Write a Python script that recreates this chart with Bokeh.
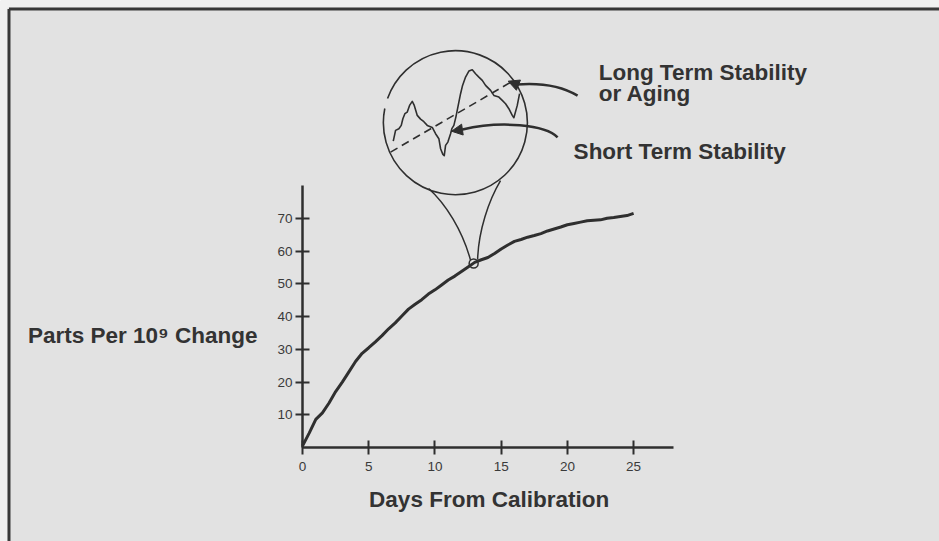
import math
from bokeh.plotting import figure
from bokeh.models import Range1d, FixedTicker, Arrow, NormalHead
from bokeh.core.properties import value
from bokeh.embed import file_html
from bokeh.resources import INLINE

# ---------------- data ----------------
days = [0.0, 0.5, 1.0, 1.5, 2.0, 2.5, 3.0, 3.5, 4.0, 4.5,
        5.0, 5.5, 6.0, 6.5, 7.0, 7.5, 8.0, 8.5, 9.0, 9.5,
        10.0, 10.5, 11.0, 11.5, 12.0, 12.5, 13.0, 13.5, 14.0, 14.5,
        15.0, 15.5, 16.0, 16.5, 17.0, 17.5, 18.0, 18.5, 19.0, 19.5,
        20.0, 20.5, 21.0, 21.5, 22.0, 22.5, 23.0, 23.5, 24.0, 24.5, 25.0]
ppb = [0.5, 4.4, 8.6, 10.6, 13.6, 17.1, 20.0, 23.1, 26.3, 28.8,
       30.5, 32.3, 34.2, 36.3, 38.1, 40.2, 42.3, 43.8, 45.2, 46.9,
       48.2, 49.7, 51.2, 52.4, 53.8, 55.2, 56.6, 57.4, 58.1, 59.3,
       60.7, 61.9, 63.0, 63.6, 64.3, 64.8, 65.4, 66.2, 66.8, 67.4,
       68.1, 68.5, 68.9, 69.3, 69.5, 69.6, 70.1, 70.3, 70.6, 70.9, 71.6]
x_ticks = [0, 5, 10, 15, 20, 25]
y_ticks = [10, 20, 30, 40, 50, 60, 70]
magnified_day = 12.92          # point of the curve that is magnified

# magnified view (short-term wiggle), offsets in pixels from the lens centre
inset_du = [-62.1, -59.8, -56.5, -54.1, -52.5, -50.5, -48.1, -45.8, -43.1, -41.1,
            -38.1, -34.8, -31.5, -28.1, -23.1, -19.8, -16.5, -14.8, -12.5, -11.1,
            -9.8, -7.5, -4.8, -3.5, -1.5, 0.5, 2.5, 5.2, 7.2, 10.2,
            13.5, 16.9, 20.2, 23.5, 26.9, 30.2, 35.2, 38.5, 43.5, 46.9,
            50.2, 53.5, 56.9, 58.5, 61.9, 64.2]
inset_dv = [-18.4, -7.7, -6.0, -2.7, 4.0, 9.0, 10.6, 17.3, 21.3, 17.3,
            7.3, 3.6, 1.0, -2.7, -4.7, -11.0, -16.0, -26.0, -31.7, -33.0,
            -22.7, -19.4, -11.0, -6.0, -2.7, 5.6, 15.6, 29.0, 37.3, 45.6,
            51.6, 53.0, 49.0, 45.6, 42.3, 37.3, 32.3, 27.3, 25.6, 22.3,
            19.0, 14.0, 7.3, 5.0, 17.3, 29.0]
trend_du = [-64.8, 58.5]
trend_dv = [-29.4, 42.3]

# ---------------- styling ----------------
BG = "#e2e2e2"
PAPER = "#f1f1f1"
INK = "#2f2f2f"
TXT = "#333333"
FONT = "Liberation Sans"

W, H = 939, 541
X0, X1 = -22.81, 48.10
Y0, Y1 = -28.74, 136.66
PXD = W / (X1 - X0)      # px per day
PXU = H / (Y1 - Y0)      # px per ppb

p = figure(width=W, height=H, x_range=Range1d(X0, X1), y_range=Range1d(Y0, Y1),
           output_backend="svg", toolbar_location=None, min_border=0)
p.background_fill_color = BG
p.border_fill_color = BG
p.outline_line_color = None
p.grid.visible = False

for ax in (p.xaxis[0], p.yaxis[0]):
    ax.fixed_location = 0
    ax.axis_line_color = INK
    ax.axis_line_width = 2.5
    ax.major_tick_line_color = INK
    ax.major_tick_line_width = 2
    ax.major_tick_in = 7
    ax.major_tick_out = 7
    ax.minor_tick_line_color = None
    ax.major_label_text_font = FONT
    ax.major_label_text_font_size = "13.5px"
    ax.major_label_text_color = "#3a3a3a"
p.xaxis[0].ticker = FixedTicker(ticks=x_ticks)
p.xaxis[0].bounds = (0, 28)
p.xaxis[0].major_label_standoff = 8
p.yaxis[0].ticker = FixedTicker(ticks=y_ticks)
p.yaxis[0].bounds = (0, 80)
p.yaxis[0].major_label_standoff = 3

# paper strip outside the illustration box, and the box's top/left edges
ex = X0 + 7 / PXD
ey = Y1 - 7 / PXU
p.quad(left=[X0, X0], right=[ex, X1], bottom=[Y0, ey], top=[Y1, Y1],
       fill_color=PAPER, line_color=None)
bx = X0 + 8.5 / PXD
by = Y1 - 8.5 / PXU
p.segment(x0=[bx, bx], y0=[by, Y0], x1=[X1, bx], y1=[by, by],
          line_color="#3a3a3a", line_width=3)

# main curve
p.line(days, ppb, line_color=INK, line_width=3, line_join="round")

# small circle at the magnified point
my = 56.25
p.circle(x=[magnified_day], y=[my], radius=4.5 / PXD, fill_color=None,
         line_color=INK, line_width=1.5)

# lens (with the small break on its left side)
cx, cy, R = 11.54, 99.3, 72.0
p.arc(x=[cx], y=[cy], radius=R / PXD, start_angle=math.radians(168.6),
      end_angle=math.radians(160.4 + 360), direction="anticlock",
      line_color=INK, line_width=1.6)

# funnel lines from the small circle to the lens
p.bezier(x0=[9.52, 14.95], y0=[79.2, 81.6],
         cx0=[10.80, 14.05], cy0=[74.6, 75.5],
         cx1=[12.08, 13.29], cy1=[66.3, 66.3],
         x1=[12.69, 13.22], y1=[57.2, 57.5],
         line_color=INK, line_width=1.5)

# magnified wiggle and long-term trend inside the lens
p.line([cx + u / PXD for u in inset_du], [cy + v / PXU for v in inset_dv],
       line_color=INK, line_width=1.6, line_join="round")
p.line([cx + u / PXD for u in trend_du], [cy + v / PXU for v in trend_dv],
       line_color=INK, line_width=1.6, line_dash="8 5")

# pointer arrows
p.bezier(x0=[20.77, 19.26], y0=[107.6, 94.8],
         cx0=[19.48, 18.35], cy0=[110.7, 98.7],
         cx1=[17.97, 14.95], cy1=[111.6, 100.0],
         x1=[16.16, 12.08], y1=[111.0, 97.2],
         line_color=INK, line_width=2.5)
for xs, ys, xe, ye in [(16.16, 111.0, 15.53, 112.0), (12.08, 97.2, 11.25, 96.7)]:
    p.add_layout(Arrow(end=NormalHead(size=11, fill_color=INK, line_color=INK, line_width=1),
                       x_start=xs, y_start=ys, x_end=xe, y_end=ye,
                       line_color=INK, line_width=2.5))

# texts
def label(x, y, t, align="left"):
    p.text(x=[x], y=[y], text=[t], text_font=value(FONT), text_font_style="bold",
           text_font_size="22.5px", text_color=TXT, text_align=align,
           text_baseline="alphabetic")

label(22.36, 114.5, "Long Term Stability")
label(22.36, 108.1, "or Aging")
label(20.47, 90.35, "Short Term Stability")
label(-3.4, 34.1, "Parts Per 10\u2079 Change", align="right")
label(14.09, -16.0, "Days From Calibration", align="center")

open("out.html", "w").write(file_html(p, INLINE))
